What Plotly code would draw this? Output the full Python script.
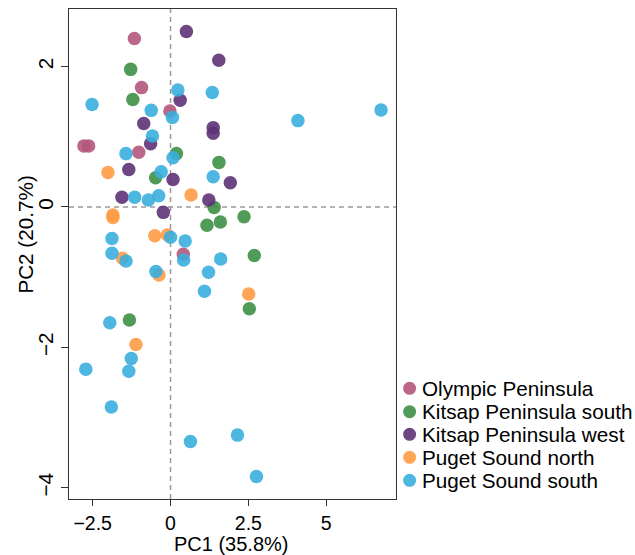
import plotly.graph_objects as go

groups = ["Olympic Peninsula", "Kitsap Peninsula south", "Kitsap Peninsula west",
          "Puget Sound north", "Puget Sound south"]
colors = ["#B4567C", "#3E9046", "#5D3275", "#FF9B45", "#3AAEDE"]

olympic_x = [-1.16, -0.93, -0.02, -2.78, -2.63, -1.02, 0.41]
olympic_y = [2.40, 1.70, 1.366, 0.87, 0.87, 0.78, -0.675]

ksouth_x = [-1.28, -1.21, 0.19, 1.555, -0.48, 1.40, 2.36, 1.17, 1.60, 2.69, 2.53, -1.32]
ksouth_y = [1.96, 1.53, 0.76, 0.635, 0.416, -0.006, -0.14, -0.26, -0.215, -0.69, -1.45, -1.61]

kwest_x = [0.51, 1.55, 0.31, -0.86, 1.37, 1.37, -0.64, -1.34, 0.08, 1.92, -1.56, 1.23, -0.23]
kwest_y = [2.50, 2.09, 1.52, 1.19, 1.13, 1.05, 0.90, 0.535, 0.39, 0.345, 0.137, 0.098, -0.077]

pnorth_x = [-2.01, 0.66, -1.85, -1.85, -0.505, -0.10, -1.545, -0.37, 2.51, -1.11]
pnorth_y = [0.49, 0.17, -0.115, -0.15, -0.41, -0.40, -0.73, -0.97, -1.24, -1.96]

psouth_x = [0.235, 1.34, -2.52, -0.62, 0.06, -0.58, -1.43, 0.08, -0.30, 1.37, -1.15, -0.71,
            -0.38, 0.0, 0.47, -1.88, -1.88, -1.43, 0.42, 1.61, -0.47, 1.22, 1.09, -1.95,
            -1.26, -2.72, -1.34, -1.90, 0.64, 2.15, 2.76, 4.09, 6.76]
psouth_y = [1.665, 1.63, 1.46, 1.376, 1.276, 1.01, 0.76, 0.70, 0.50, 0.43, 0.137, 0.098,
            0.16, -0.43, -0.486, -0.45, -0.66, -0.77, -0.756, -0.74, -0.92, -0.93, -1.20, -1.65,
            -2.16, -2.31, -2.34, -2.85, -3.34, -3.25, -3.84, 1.23, 1.38]

xs = [olympic_x, ksouth_x, kwest_x, pnorth_x, psouth_x]
ys = [olympic_y, ksouth_y, kwest_y, pnorth_y, psouth_y]

x_ticks = [-2.5, 0, 2.5, 5]
x_ticklabels = ["\u22122.5", "0", "2.5", "5"]
y_ticks = [-4, -2, 0, 2]
y_ticklabels = ["\u22124", "\u22122", "0", "2"]

FONT = "Liberation Sans, Arial, Helvetica, sans-serif"
FS = 20.7
TICK_FS = 19.5
TITLE_FS = 20

fig = go.Figure()
for name, col, x, y in zip(groups, colors, xs, ys):
    fig.add_trace(go.Scatter(x=x, y=y, mode="markers", name=name,
                             marker=dict(size=13.5, color=col, opacity=0.9,
                                         line=dict(width=0)),
                             showlegend=False))

# plot area geometry (pixels)
L, R, T, B = 69.3, 395.7, 9.0, 499.0
W, H = 635, 555

def px2paper_x(px):
    return (px - L) / (R - L)

def px2paper_y(py):
    return (B - py) / (B - T)

shapes = [
    dict(type="line", xref="x", yref="paper", x0=0, x1=0, y0=0, y1=1,
         line=dict(color="#9a9a9a", width=1.5, dash="5px,4px"), layer="below"),
    dict(type="line", xref="paper", yref="y", x0=0, x1=1, y0=0, y1=0,
         line=dict(color="#9a9a9a", width=1.5, dash="5px,4px"), layer="below"),
]

annotations = []
legend_rows = [388.3, 411.7, 434.3, 457.3, 480.3]
for name, col, ry in zip(groups, colors, legend_rows):
    shapes.append(dict(type="circle", xref="paper", yref="paper",
                       xsizemode="pixel", ysizemode="pixel",
                       xanchor=px2paper_x(409.3), yanchor=px2paper_y(ry),
                       x0=-6.5, x1=6.5, y0=-6.5, y1=6.5,
                       fillcolor=col, opacity=0.9, line=dict(width=0)))
    annotations.append(dict(text=name, xref="paper", yref="paper",
                            x=px2paper_x(419.5), y=px2paper_y(ry),
                            xanchor="left", yanchor="middle", showarrow=False,
                            font=dict(family=FONT, size=FS, color="black")))

annotations.append(dict(text="PC1 (35.8%)", xref="paper", yref="paper",
                        x=px2paper_x(231.5), y=px2paper_y(543.5),
                        xanchor="center", yanchor="middle", showarrow=False,
                        font=dict(family=FONT, size=TITLE_FS, color="black")))
annotations.append(dict(text="PC2 (20.7%)", xref="paper", yref="paper",
                        x=px2paper_x(25), y=px2paper_y(235),
                        xanchor="center", yanchor="middle", showarrow=False,
                        textangle=-90,
                        font=dict(family=FONT, size=FS, color="black")))

fig.update_layout(
    width=W, height=H,
    margin=dict(l=L, r=W - R, t=T, b=H - B, pad=0, autoexpand=False),
    paper_bgcolor="white", plot_bgcolor="white",
    font=dict(family=FONT, size=FS, color="black"),
    shapes=shapes, annotations=annotations,
    showlegend=False,
)
fig.update_xaxes(range=[-3.26, 7.24], tickvals=x_ticks, ticktext=x_ticklabels,
                 showgrid=False, zeroline=False, showline=True, mirror=True,
                 linecolor="#333", linewidth=1.2, ticks="outside", ticklen=6,
                 tickcolor="#333", tickwidth=1.2, automargin=False,
                 tickfont=dict(family=FONT, size=TICK_FS, color="black"))
fig.update_yaxes(range=[-4.16, 2.82], tickvals=y_ticks, ticktext=y_ticklabels,
                 showgrid=False, zeroline=False, showline=True, mirror=True,
                 linecolor="#333", linewidth=1.2, ticks="outside", ticklen=7,
                 tickcolor="#333", tickwidth=1.2, tickangle=-90, automargin=False,
                 tickfont=dict(family=FONT, size=FS, color="black"))

fig.write_html("out.html", config={"displayModeBar": False})

# remove default page margin so the figure sits at the window's top-left corner
with open("out.html", "r", encoding="utf-8") as f:
    html = f.read()
html = html.replace("<head>", "<head><style>html,body{margin:0;padding:0;overflow:hidden;}</style>", 1)
with open("out.html", "w", encoding="utf-8") as f:
    f.write(html)
